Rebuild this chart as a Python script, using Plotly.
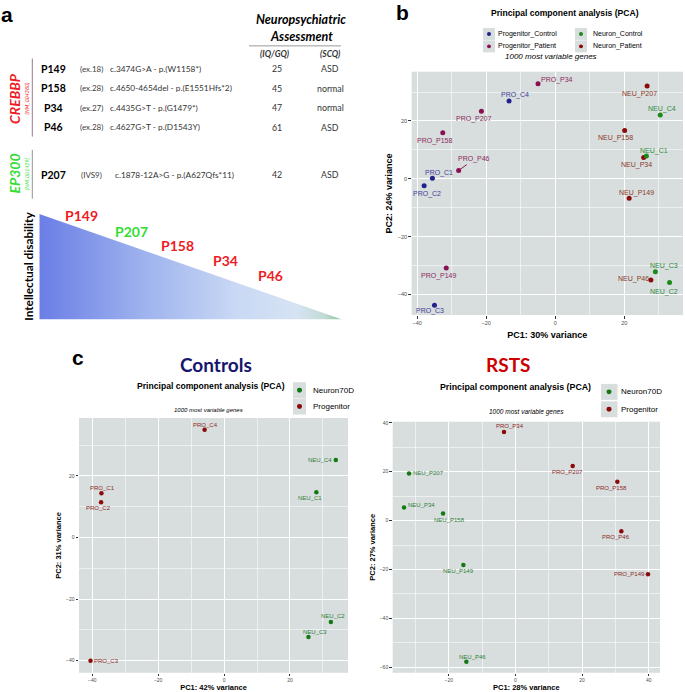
import plotly.graph_objects as go

W, H = 685, 692


def px(x):
    return x / W


def py(y):
    return 1 - y / H


# ---------------- Panel a data ----------------
patient_ids = ["P149", "P158", "P34", "P46", "P207"]
patient_exon = ["(ex.18)", "(ex.28)", "(ex.27)", "(ex.28)", "(IVS9)"]
patient_mutation = [
    "c.3474G>A - p.(W1158*)",
    "c.4650-4654del - p.(E1551Hfs*2)",
    "c.4435G>T - p.(G1479*)",
    "c.4627G>T - p.(D1543Y)",
    "c.1878-12A>G - p.(A627Qfs*11)",
]
patient_iq = [25, 45, 47, 61, 42]
patient_scq = ["ASD", "normal", "normal", "ASD", "ASD"]
gene_names = ["CREBBP", "EP300"]
gene_refseq = ["(NM_004380)", "(NM_001429)"]
id_order = ["P149", "P207", "P158", "P34", "P46"]
id_order_gene = ["CREBBP", "EP300", "CREBBP", "CREBBP", "CREBBP"]
triangle_x = [0, 0, 1, 0]
triangle_y = [1, 0, 0, 1]

# ---------------- Panel b data ----------------
b_names = ["PRO_P34", "PRO_C4", "PRO_P207", "PRO_P158", "PRO_P46", "PRO_C1", "PRO_C2",
           "PRO_P149", "PRO_C3", "NEU_P207", "NEU_C4", "NEU_P158", "NEU_C1", "NEU_P34",
           "NEU_P149", "NEU_C3", "NEU_P46", "NEU_C2"]
b_pc1 = [-5.0, -13.4, -21.4, -32.6, -28.0, -35.6, -38.0, -31.6, -35.0,
         26.6, 30.4, 20.1, 26.4, 25.6, 21.4, 29.0, 27.7, 33.1]
b_pc2 = [32.9, 26.9, 23.4, 15.9, 2.9, 0.2, -2.4, -30.8, -43.7,
         32.1, 22.1, 16.7, 7.9, 7.4, -6.7, -32.1, -35.0, -35.8]
b_group = ["Progenitor_Patient", "Progenitor_Control", "Progenitor_Patient", "Progenitor_Patient",
           "Progenitor_Patient", "Progenitor_Control", "Progenitor_Control", "Progenitor_Patient",
           "Progenitor_Control", "Neuron_Patient", "Neuron_Control", "Neuron_Patient",
           "Neuron_Control", "Neuron_Patient", "Neuron_Patient", "Neuron_Control",
           "Neuron_Patient", "Neuron_Control"]
b_legend = ["Progenitor_Control", "Progenitor_Patient", "Neuron_Control", "Neuron_Patient"]

# ---------------- Panel c (Controls) data ----------------
cl_names = ["PRO_C4", "PRO_C1", "PRO_C2", "PRO_C3", "NEU_C4", "NEU_C1", "NEU_C2", "NEU_C3"]
cl_pc1 = [-5.9, -37.2, -37.3, -40.5, 33.9, 28.0, 32.4, 25.6]
cl_pc2 = [35.0, 14.4, 11.5, -40.0, 25.2, 14.7, -27.4, -32.3]
cl_group = ["Progenitor", "Progenitor", "Progenitor", "Progenitor",
            "Neuron70D", "Neuron70D", "Neuron70D", "Neuron70D"]

# ---------------- Panel c (RSTS) data ----------------
cr_names = ["PRO_P34", "PRO_P207", "PRO_P158", "PRO_P46", "PRO_P149",
            "NEU_P207", "NEU_P34", "NEU_P158", "NEU_P149", "NEU_P46"]
cr_pc1 = [-3.4, 17.2, 30.6, 31.8, 39.8, -31.9, -33.4, -21.7, -15.6, -14.7]
cr_pc2 = [36.2, 22.3, 15.9, -4.4, -21.9, 19.3, 5.4, 2.9, -18.2, -57.7]
cr_group = ["Progenitor", "Progenitor", "Progenitor", "Progenitor", "Progenitor",
            "Neuron70D", "Neuron70D", "Neuron70D", "Neuron70D", "Neuron70D"]
c_legend = ["Neuron70D", "Progenitor"]

# ---------------- styles ----------------
GG = "Liberation Sans"
CAL = "Lato"
PANEL_BG = "#d8dddd"
RED = "#ee1c25"
GREEN = "#33dd33"
gene_color = {"CREBBP": RED, "EP300": GREEN}

b_dot = {"Progenitor_Control": "#22228c", "Progenitor_Patient": "#8b1052",
         "Neuron_Control": "#1b8a1b", "Neuron_Patient": "#8b0a0a"}
b_txt = {"Progenitor_Control": "#40409a", "Progenitor_Patient": "#8b2a60",
         "Neuron_Control": "#2e8b3e", "Neuron_Patient": "#8b3a2a"}
c_dot = {"Neuron70D": "#137a13", "Progenitor": "#8b0a0a"}
c_txt = {"Neuron70D": "#2e7d3a", "Progenitor": "#8b2a2a"}

# label offsets in pixels (dx right, dy up) -- layout only
b_off = {"PRO_P34": (18.6, 3.7), "PRO_C4": (6.3, 5.6), "PRO_P207": (-7.3, -8), "PRO_P158": (-7.7, -8.4),
         "PRO_P46": (15.7, 11.3), "PRO_C1": (7, 5.7), "PRO_C2": (2.7, -8), "PRO_P149": (-7.7, -8),
         "PRO_C3": (-4, -5.3), "NEU_P207": (-7.7, -8.4), "NEU_C4": (1.7, 5.6), "NEU_P158": (-9.3, -7.3),
         "NEU_C1": (8, 5.3), "NEU_P34": (-7.3, -8), "NEU_P149": (7.3, 5.4), "NEU_C3": (8.3, 6),
         "NEU_P46": (-17, 0.7), "NEU_C2": (-5.3, -9.7)}
cl_off = {"PRO_C4": (1, 5), "PRO_C1": (1.3, 5.7), "PRO_C2": (-2.6, -5.6), "PRO_C3": (15.8, -0.3),
          "NEU_C4": (-16, 0), "NEU_C1": (-6, -5.7), "NEU_C2": (2.3, 5.7), "NEU_C3": (6.3, 4.7)}
cr_off = {"PRO_P34": (6, 5.7), "PRO_P207": (-5.4, -5.6), "PRO_P158": (-5.6, -6), "PRO_P46": (-5.3, -6),
          "PRO_P149": (-19, 0), "NEU_P207": (19, 0), "NEU_P34": (17, 2), "NEU_P158": (6, -6),
          "NEU_P149": (-5.3, -5.7), "NEU_P46": (5.7, 5)}

fig = go.Figure()
annotations = []
shapes = []


def ann(x, y, text, size, color="black", family=CAL, xanchor="center", angle=0, **kw):
    annotations.append(dict(x=px(x), y=py(y), xref="paper", yref="paper", text=text,
                            showarrow=False, xanchor=xanchor, yanchor="middle",
                            textangle=angle, font=dict(size=size, color=color, family=family), **kw))


# ---------------- Panel a ----------------
ann(7, 13, "<b>a</b>", 21, family=GG)
ann(301, 17.7, "<b><i>Neuropsychiatric</i></b>", 12.5)
ann(301.5, 35, "<b><i>Assessment</i></b>", 12.5)
shapes.append(dict(type="line", xref="paper", yref="paper", x0=px(249), x1=px(341), y0=py(44), y1=py(44),
                   line=dict(color="#999999", width=1)))
ann(274.7, 51.7, "<b><i>(IQ/GQ)</i></b>", 8.5, color="#333333")
ann(329.5, 51.7, "<b><i>(SCQ)</i></b>", 8.5, color="#333333")

row_y = [67, 86.7, 106, 125.7, 173.3]
row_mut_x = [108.3, 108.3, 108.3, 108.3, 113.3]
for i, pid in enumerate(patient_ids):
    ann(53, row_y[i], "<b>%s</b>" % pid, 10.5)
    ann(91.5, row_y[i], patient_exon[i], 8, color="#404040")
    ann(row_mut_x[i], row_y[i], patient_mutation[i], 8.3, color="#333333", xanchor="left")
    ann(276.7, row_y[i], str(patient_iq[i]), 8.8, color="#333333")
    ann(330, row_y[i], patient_scq[i], 8.8, color="#333333")

gene_y = [96.7, 172.5]
gene_line = [(56.7, 135, "#9a7a8a"), (148.3, 197.3, "#8a9a8a")]
for g, name in enumerate(gene_names):
    c = gene_color[name]
    ann(14.5, gene_y[g], "<b><i>%s</i></b>" % name, 14, color=c, angle=-90)
    ann(27, gene_y[g], "<i>%s</i>" % gene_refseq[g], 5.3, color=c, angle=-90)
    y0, y1, lc = gene_line[g]
    shapes.append(dict(type="line", xref="paper", yref="paper", x0=px(32.3), x1=px(32.3),
                       y0=py(y0), y1=py(y1), line=dict(color=lc, width=1)))

fig.add_trace(go.Scatter(
    x=triangle_x, y=triangle_y, mode="none", fill="toself",
    fillgradient=dict(type="horizontal",
                      colorscale=[[0, "#6a7ee6"], [0.35, "#9fb3ee"], [0.65, "#c9d8f4"],
                                  [0.85, "#d6e3f4"], [0.94, "#c3dbd6"], [1, "#8cc49a"]]),
    xaxis="x4", yaxis="y4", hoverinfo="skip", showlegend=False))

tri_lab_x = [81, 131, 177.7, 226, 270.7]
tri_lab_y = [214.3, 230, 244, 259.7, 274.3]
for i, pid in enumerate(id_order):
    ann(tri_lab_x[i], tri_lab_y[i], "<b>%s</b>" % pid, 14, color=gene_color[id_order_gene[i]])
ann(28.5, 265, "<b>Intellectual disability</b>", 11.8, angle=-90)


# ---------------- PCA panels ----------------
def add_panel(names, pc1, pc2, groups, dot, txt, offs, xa, ya, msize, lsize, arrow_names=()):
    order = []
    for g in groups:
        if g not in order:
            order.append(g)
    for g in order:
        idx = [i for i, gg in enumerate(groups) if gg == g]
        fig.add_trace(go.Scatter(x=[pc1[i] for i in idx], y=[pc2[i] for i in idx], mode="markers",
                                 marker=dict(color=dot[g], size=msize), name=g,
                                 xaxis=xa, yaxis=ya, showlegend=False, cliponaxis=False))
    for i, n in enumerate(names):
        dx, dy = offs[n]
        base = dict(x=pc1[i], y=pc2[i], xref=xa, yref=ya, text=n,
                    font=dict(size=lsize, color=txt[groups[i]], family=GG),
                    xanchor="center", yanchor="middle")
        if n in arrow_names:
            base.update(showarrow=True, ax=dx, ay=-dy, arrowhead=0, arrowwidth=1,
                        arrowcolor=dot[groups[i]], standoff=1.5)
        else:
            base.update(showarrow=False, xshift=dx, yshift=dy)
        annotations.append(base)


add_panel(b_names, b_pc1, b_pc2, b_group, b_dot, b_txt, b_off, "x", "y", 5, 7, ("PRO_P46",))
add_panel(cl_names, cl_pc1, cl_pc2, cl_group, c_dot, c_txt, cl_off, "x2", "y2", 4.5, 6)
add_panel(cr_names, cr_pc1, cr_pc2, cr_group, c_dot, c_txt, cr_off, "x3", "y3", 4.5, 6)

# panel backgrounds
for (l, t, r, b) in [(411.7, 70, 683, 314), (79, 417.3, 348, 672.7), (392.7, 421, 660, 672.7)]:
    shapes.append(dict(type="rect", xref="paper", yref="paper", x0=px(l), x1=px(r), y0=py(b), y1=py(t),
                       fillcolor=PANEL_BG, line=dict(width=0), layer="below"))


def legend_item(dotx, doty, box, text, color, tx, size, r):
    l, t, rr, bb = box
    shapes.append(dict(type="rect", xref="paper", yref="paper", x0=px(l), x1=px(rr), y0=py(bb), y1=py(t),
                       fillcolor=PANEL_BG, line=dict(width=0), layer="below"))
    shapes.append(dict(type="circle", xref="paper", yref="paper", x0=px(dotx - r), x1=px(dotx + r),
                       y0=py(doty + r), y1=py(doty - r), fillcolor=color, line=dict(width=0), layer="above"))
    ann(tx, doty, text, size, color="black", family=GG, xanchor="left")


# panel b titles + legend
ann(402.5, 11, "<b>b</b>", 21, family=GG)
ann(564.7, 11, "<b>Principal component analysis (PCA)</b>", 8.6, family=GG)
ann(550.8, 54.7, "<i>1000 most variable genes</i>", 8, family=GG)
b_leg_pos = {"Progenitor_Control": (489, 32, 496), "Progenitor_Patient": (489, 44.5, 496),
             "Neuron_Control": (581, 32, 591), "Neuron_Patient": (581, 44.5, 591)}
for g in b_legend:
    dx_, dy_, tx_ = b_leg_pos[g]
    legend_item(dx_, dy_, (dx_ - 6, dy_ - 6, dx_ + 6, dy_ + 6), g, b_dot[g], tx_, 7, 2)

# panel c titles + legends
ann(77.5, 357, "<b>c</b>", 21, family=GG)
ann(216, 364, "<b>Controls</b>", 19, color="#15156e")
ann(508.3, 364, "<b>RSTS</b>", 19, color="#cc0000")
ann(210.5, 385.3, "<b>Principal component analysis (PCA)</b>", 8.6, family=GG)
ann(515, 386, "<b>Principal component analysis (PCA)</b>", 8.8, family=GG)
ann(208.7, 409, "<i>1000 most variable genes</i>", 6, family=GG)
ann(526.7, 411, "<i>1000 most variable genes</i>", 6.5, family=GG)
cl_leg_y = [389.3, 405.7]
cr_leg_y = [391, 408.5]
for k, g in enumerate(c_legend):
    legend_item(299.5, cl_leg_y[k], (293, cl_leg_y[k] - 8, 306, cl_leg_y[k] + 8), g, c_dot[g], 310.5, 8, 2.5)
    legend_item(609, cr_leg_y[k], (601, cr_leg_y[k] - 8, 617.5, cr_leg_y[k] + 8), g, c_dot[g], 619, 8, 2.5)


def axis(dom, rng, title, tsize, ticksize, anchor, standoff, dtick=20):
    return dict(domain=dom, range=rng, anchor=anchor, dtick=dtick, tick0=0, showgrid=True,
                gridcolor="white", gridwidth=1, zeroline=False, showline=False, ticks="outside",
                ticklen=2.5, tickwidth=0.8, tickcolor="#333333",
                tickfont=dict(size=ticksize, color="#4d4d4d", family=GG),
                minor=dict(dtick=dtick / 2, tick0=0, showgrid=True,
                           gridcolor="rgba(255,255,255,0.55)", gridwidth=0.6),
                title=dict(text="<b>%s</b>" % title, font=dict(size=tsize, color="black", family=GG),
                           standoff=standoff),
                fixedrange=True)


fig.update_layout(
    width=W, height=H, margin=dict(l=0, r=0, t=0, b=0),
    paper_bgcolor="white", plot_bgcolor="rgba(0,0,0,0)", showlegend=False,
    xaxis=axis([px(411.7), px(683)], [-41.6, 37.0], "PC1: 30% variance", 9, 5.5, "y", 6),
    yaxis=axis([py(314), py(70)], [-47.1, 37.0], "PC2: 24% variance", 9, 5.5, "x", 3),
    xaxis2=axis([px(79), px(348)], [-44.0, 37.6], "PC1: 42% variance", 7.5, 5, "y2", 1),
    yaxis2=axis([py(672.7), py(417.3)], [-43.9, 38.8], "PC2: 31% variance", 7.5, 5, "x2", 3),
    xaxis3=axis([px(392.7), px(660)], [-36.8, 43.4], "PC1: 28% variance", 7.5, 5, "y3", 1),
    yaxis3=axis([py(672.7), py(421)], [-62.2, 40.4], "PC2: 27% variance", 7.5, 5, "x3", 3),
    xaxis4=dict(domain=[px(39.3), px(342)], range=[0, 1], visible=False, anchor="y4", fixedrange=True),
    yaxis4=dict(domain=[py(318.3), py(212.7)], range=[0, 1], visible=False, anchor="x4", fixedrange=True),
    annotations=annotations, shapes=shapes,
)

fig.write_html("out.html", config={"displayModeBar": False},
               post_script="document.body.style.margin='0px';document.body.style.padding='0px';")
